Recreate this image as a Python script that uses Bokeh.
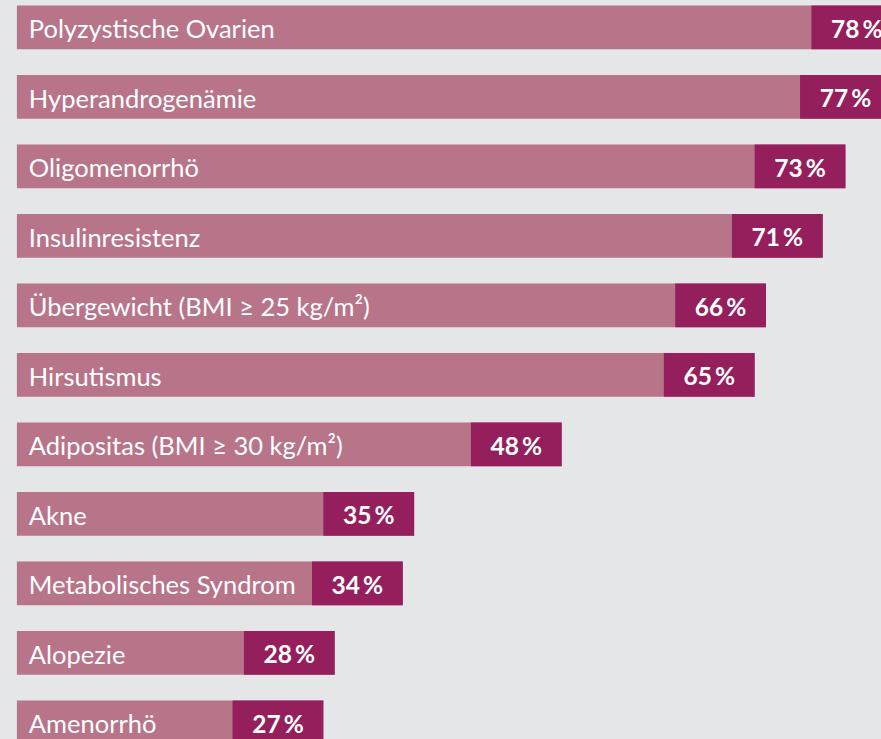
from bokeh.plotting import figure
from bokeh.models import ColumnDataSource, Range1d, GlobalInlineStyleSheet
from bokeh.core.properties import value
from bokeh.embed import file_html
from bokeh.resources import INLINE

categories = [
    "Polyzystische Ovarien",
    "Hyperandrogenämie",
    "Oligomenorrhö",
    "Insulinresistenz",
    "Übergewicht (BMI ≥ 25 kg/m²)",
    "Hirsutismus",
    "Adipositas (BMI ≥ 30 kg/m²)",
    "Akne",
    "Metabolisches Syndrom",
    "Alopezie",
    "Amenorrhö",
]
values = [78, 77, 73, 71, 66, 65, 48, 35, 34, 28, 27]
value_labels = [f"{v}\u2009%" for v in values]

BG = "#e5e6e8"
LIGHT = "#b87489"
DARK = "#951f5c"
BLOCK = 8.0  # width of dark end block in value units

idx = list(range(len(categories)))
src = ColumnDataSource(dict(
    y=idx,
    v=values,
    left_dark=[v - BLOCK for v in values],
    mid_dark=[v - BLOCK / 2 for v in values],
    cat=categories,
    lab=value_labels,
    zero=[0] * len(values),
    txt_x=[1.05] * len(values),
))

W, H = 881, 739
k = 11.35  # px per unit
x_start = -16.4 / k
pitch = 69.5
y_top = (0 - 26.85) / pitch
y_bot = (H - 26.85) / pitch

p = figure(width=W, height=H, output_backend="svg", toolbar_location=None,
           x_range=Range1d(x_start, x_start + W / k),
           y_range=Range1d(y_bot, y_top),
           min_border=0, min_border_left=0, min_border_right=0,
           min_border_top=0, min_border_bottom=0)
p.axis.visible = False
p.grid.visible = False
p.outline_line_color = None
p.background_fill_color = BG
p.border_fill_color = BG
p.stylesheets.append(GlobalInlineStyleSheet(
    css=f"html, body {{ margin: 0; padding: 0; overflow: hidden; background-color: {BG}; }}"))

bh = 43.7 / pitch
p.hbar(y="y", left="zero", right="v", height=bh, source=src,
       fill_color=LIGHT, line_color=None)
p.hbar(y="y", left="left_dark", right="v", height=bh, source=src,
       fill_color=DARK, line_color=None)

p.text(x="txt_x", y="y", text="cat", source=src, y_offset=1,
       text_font=value("Lato"), text_font_size="25.5px",
       text_color="white", text_baseline="middle", text_align="left")
p.text(x="mid_dark", y="y", text="lab", source=src, y_offset=1,
       text_font=value("Lato"), text_font_size="24.5px", text_font_style="bold",
       text_color="white", text_baseline="middle", text_align="center")

open("out.html", "w").write(file_html(p, INLINE))
